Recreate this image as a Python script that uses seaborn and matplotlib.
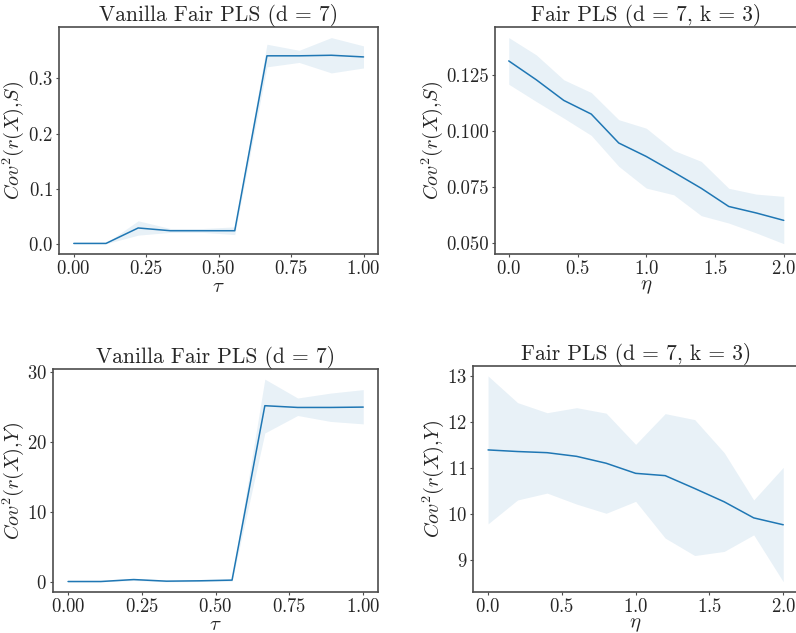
import numpy as np
import pandas as pd
import matplotlib
matplotlib.use("Agg")
import matplotlib.pyplot as plt
import seaborn as sns

# ---- data ----
tau = [0.0, 1/9, 2/9, 3/9, 4/9, 5/9, 6/9, 7/9, 8/9, 1.0]
eta = [0.0, 0.2, 0.4, 0.6, 0.8, 1.0, 1.2, 1.4, 1.6, 1.8, 2.0]

vanilla_s_mean = [0.001, 0.001, 0.029, 0.024, 0.024, 0.024, 0.341, 0.341, 0.342, 0.339]
vanilla_s_low = [0.0005, 0.0005, 0.016, 0.021, 0.021, 0.017, 0.321, 0.329, 0.310, 0.319]
vanilla_s_high = [0.0015, 0.0015, 0.042, 0.028, 0.028, 0.031, 0.362, 0.351, 0.374, 0.359]

fair_s_mean = [0.1312, 0.1228, 0.1136, 0.1075, 0.0946, 0.0886, 0.0816, 0.0744, 0.0663, 0.0634, 0.0601]
fair_s_low = [0.1208, 0.1131, 0.1057, 0.0980, 0.0842, 0.0745, 0.0715, 0.0622, 0.0589, 0.0545, 0.0497]
fair_s_high = [0.1416, 0.1339, 0.1228, 0.1171, 0.1050, 0.1012, 0.0913, 0.0864, 0.0744, 0.0718, 0.0708]

vanilla_y_mean = [0.05, 0.05, 0.33, 0.1, 0.15, 0.25, 25.2, 24.95, 24.95, 25.0]
vanilla_y_low = [0.0, 0.0, 0.2, 0.0, 0.05, 0.1, 21.3, 23.8, 22.95, 22.6]
vanilla_y_high = [0.1, 0.1, 0.45, 0.2, 0.25, 0.4, 29.0, 26.3, 27.0, 27.5]

fair_y_mean = [11.39, 11.355, 11.33, 11.25, 11.10, 10.88, 10.83, 10.55, 10.26, 9.91, 9.76]
fair_y_low = [9.78, 10.30, 10.45, 10.21, 10.01, 10.27, 9.47, 9.09, 9.18, 9.54, 8.52]
fair_y_high = [13.0, 12.42, 12.20, 12.31, 12.19, 11.51, 12.18, 12.05, 11.33, 10.30, 11.01]

title_vanilla = "Vanilla Fair PLS (d = 7)"
title_fair = "Fair PLS (d = 7, k = 3)"
ylabel_s = r"$Cov^2(r(X),\!S)$"
ylabel_y = r"$Cov^2(r(X),\!Y)$"

sns.set_theme(style="white")
plt.rcParams.update({
    "font.family": "serif",
    "font.serif": ["cmr10", "DejaVu Serif"],
    "mathtext.fontset": "cm",
    "axes.formatter.use_mathtext": True,
    "axes.edgecolor": "0.3",
    "axes.linewidth": 1.2,
    "xtick.bottom": True,
    "ytick.left": True,
    "xtick.major.size": 2.5,
    "ytick.major.size": 2.5,
    "xtick.major.width": 0.8,
    "ytick.major.width": 0.8,
    "xtick.color": "0.3",
    "ytick.color": "0.3",
    "xtick.labelcolor": "0.15",
    "ytick.labelcolor": "0.15",
})

W, H = 796, 633
fig = plt.figure(figsize=(W / 100, H / 100), dpi=100)

def box(l, r, t, b):
    return [l / W, 1 - b / H, (r - l) / W, (b - t) / H]

axes_specs = [
    (box(59.3, 378, 27.3, 254), tau, vanilla_s_mean, vanilla_s_low, vanilla_s_high, title_vanilla, ylabel_s, r"$\tau$", 0),
    (box(495, 797.5, 27.3, 254), eta, fair_s_mean, fair_s_low, fair_s_high, title_fair, ylabel_s, r"$\eta$", 0),
    (box(53.3, 378, 369, 592), tau, vanilla_y_mean, vanilla_y_low, vanilla_y_high, title_vanilla, ylabel_y, r"$\tau$", 0),
    (box(473.3, 798, 365.7, 592), eta, fair_y_mean, fair_y_low, fair_y_high, title_fair, ylabel_y, r"$\eta$", 0),
]

blue = "#1f77b4"
for pos, x, m, lo, hi, title, ylab, xlab, xpad in axes_specs:
    ax = fig.add_axes(pos)
    df = pd.DataFrame({"x": x, "y": m})
    ax.fill_between(x, lo, hi, color=blue, alpha=0.1, linewidth=0)
    sns.lineplot(data=df, x="x", y="y", ax=ax, color=blue, linewidth=1.1)
    ax.set_title(title, fontsize=15.5, pad=4)
    ax.set_xlabel(xlab, fontsize=15, labelpad=xpad)
    ax.set_ylabel(ylab, fontsize=14.5, labelpad=1)
    ax.tick_params(labelsize=13.5, pad=2)

ax_list = fig.axes
ax_list[0].set_yticks([0.0, 0.1, 0.2, 0.3])
ax_list[0].set_xticks([0.0, 0.25, 0.5, 0.75, 1.0])
ax_list[1].set_yticks([0.05, 0.075, 0.1, 0.125])
ax_list[1].set_yticklabels(["0.050", "0.075", "0.100", "0.125"])
ax_list[2].set_yticks([0, 10, 20, 30])
ax_list[2].set_xticks([0.0, 0.25, 0.5, 0.75, 1.0])
ax_list[3].set_yticks([9, 10, 11, 12, 13])

fig.savefig("out.png", dpi=100)
